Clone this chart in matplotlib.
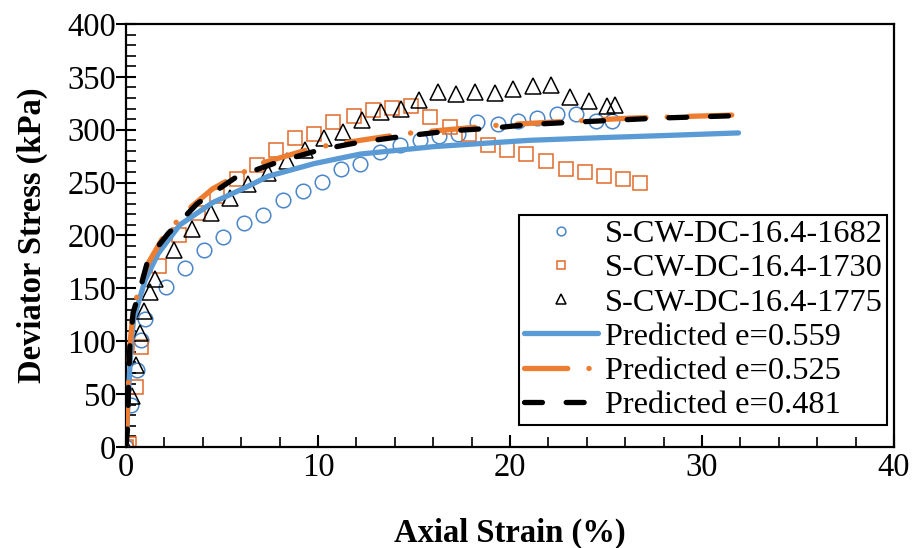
import matplotlib
matplotlib.use("Agg")
import matplotlib.pyplot as plt
from matplotlib.ticker import MultipleLocator

plt.rcParams['font.family'] = ['Liberation Serif', 'DejaVu Serif']

# Measured series
x_1682 = [0, 0.24, 0.55, 0.77, 1.0, 2.07, 3.08, 4.07, 5.07, 6.12, 7.13, 8.17, 9.2, 10.2,
          11.2, 12.2, 13.25, 14.25, 15.3, 16.3, 17.3, 18.3, 19.4, 20.4, 21.4, 22.46,
          23.45, 24.5, 25.3]
y_1682 = [0, 40, 73, 101, 121, 151, 169, 186, 199, 212, 219, 234, 242, 251,
          263, 268, 279, 286, 290, 294, 296, 307, 305, 308, 311, 315,
          315, 308, 308]

x_1730 = [0, 0.15, 0.5, 0.77, 1.74, 2.76, 3.77, 4.76, 5.8, 6.8, 7.8, 8.8, 9.8, 10.8,
          11.85, 12.86, 13.86, 14.86, 15.85, 16.86, 17.85, 18.86, 19.85, 20.85,
          21.9, 22.9, 23.9, 24.9, 25.9, 26.75]
y_1730 = [0, 3, 57, 95, 171, 200, 221, 237, 253, 267, 281, 292, 296, 307,
          313, 319, 321, 322, 312, 303, 296, 286, 281, 277,
          270, 263, 260, 256, 253, 250]

x_1775 = [0, 0.3, 0.52, 0.73, 0.96, 1.25, 1.51, 2.52, 3.42, 4.41, 5.42, 6.38, 7.37,
          8.38, 9.33, 10.3, 11.3, 12.3, 13.3, 14.3, 15.25, 16.24, 17.2, 18.2, 19.2,
          20.17, 21.18, 22.15, 23.1, 24.1, 25.07, 25.45]
y_1775 = [0, 48, 78, 108, 129, 147, 159, 186, 206, 221, 235, 249, 259,
          270, 281, 292, 298, 309, 317, 320, 328, 336, 334, 336, 335,
          339, 341, 342, 331, 327, 322, 323]

# Predicted curves
xp_559 = [0, 0.1, 0.2, 0.3, 0.4, 0.64, 1.0, 1.68, 2.8, 4.5, 6.3, 7.4, 9.8, 12.2,
          16.0, 21.0, 24.7, 28.0, 31.9]
yp_559 = [0, 40, 75, 104, 121, 136, 158, 183, 210, 231, 246, 256, 268, 277,
          284, 290, 292.5, 294.5, 297]

xp_525 = [0, 0.05, 0.1, 0.2, 0.35, 0.64, 1.16, 1.86, 3.0, 4.5, 5.7, 7.0, 9.8, 12.2,
          14.6, 19.5, 22.0, 26.3, 31.8]
yp_525 = [0, 22, 50, 95, 125, 148, 174, 196, 221, 244, 256, 268, 283, 290,
          296.5, 304.5, 307, 311, 314]

xp_481 = [0, 0.1, 0.13, 0.2, 0.37, 0.64, 1.16, 2.2, 2.73, 3.7, 5.77, 8.0, 10.1,
          12.1, 14.3, 16.9, 19.0, 21.0, 23.15, 27.7, 31.7]
yp_481 = [0, 22, 60, 95, 127, 143, 178, 202, 211.5, 230, 255.6, 270, 281,
          288, 293.5, 299, 301.4, 305, 307, 311, 313.3]

x_ticks = [0, 10, 20, 30, 40]
y_ticks = [0, 50, 100, 150, 200, 250, 300, 350, 400]

FS = 23.5
LFS = 23.3

fig = plt.figure(figsize=(9.17, 5.48), dpi=100)
ax = fig.add_axes([126/917, 1-447/548, (894-126)/917, (447-24)/548])

ms = 10.5
ax.plot(x_1682, y_1682, ls='none', marker='o', ms=ms, mfc='none', mec='#4A86C8', mew=1.1,
        label='S-CW-DC-16.4-1682', zorder=2)
ax.plot(x_1730, y_1730, ls='none', marker='s', ms=ms, mfc='none', mec='#E0692A', mew=1.1,
        label='S-CW-DC-16.4-1730', zorder=2)
ax.plot(x_1775, y_1775, ls='none', marker='^', ms=ms+1.5, mfc='none', mec='black', mew=1.1,
        label='S-CW-DC-16.4-1775', zorder=2)

lw = 3.8
ax.plot(xp_559, yp_559, color='#5B9BD5', lw=lw, solid_capstyle='round',
        label='Predicted e=0.559', zorder=3)
ax.plot(xp_525, yp_525, color='#ED7D31', lw=lw, dash_capstyle='round',
        dashes=(8.2, 4.0, 0.05, 4.0), label='Predicted e=0.525', zorder=4)
ax.plot(xp_481, yp_481, color='black', lw=lw, dash_capstyle='round',
        dashes=(3.4, 4.5), label='Predicted e=0.481', zorder=5)

ax.set_xlim(0, 40)
ax.set_ylim(0, 400)
ax.set_xticks(x_ticks)
ax.set_yticks(y_ticks)
ax.xaxis.set_minor_locator(MultipleLocator(2))
ax.yaxis.set_minor_locator(MultipleLocator(10))
ax.tick_params(axis='y', which='major', direction='inout', length=14, width=1.5,
               labelsize=FS, right=False, pad=0)
ax.tick_params(axis='x', which='major', direction='in', length=9, width=1.5,
               labelsize=FS, top=False, pad=4)
ax.tick_params(which='minor', direction='in', length=7, width=1.2, top=False, right=False)
for s in ax.spines.values():
    s.set_linewidth(1.6)
    s.set_color('black')

ax.set_xlabel('Axial Strain (%)', fontsize=FS, fontweight='bold', labelpad=25)
ax.set_ylabel('Deviator Stress (kPa)', fontsize=FS, fontweight='bold', labelpad=14)

leg = ax.legend(loc='upper left', bbox_to_anchor=((519-126)/768, (447-215)/423),
                borderaxespad=0, fontsize=LFS, frameon=True, fancybox=False,
                markerscale=0.6, handlelength=2.3, handletextpad=0.22,
                labelspacing=0.14, borderpad=0.14)
leg.get_frame().set_edgecolor('black')
leg.get_frame().set_linewidth(1.5)
leg.get_frame().set_alpha(1)

fig.savefig('out.png', dpi=100)
